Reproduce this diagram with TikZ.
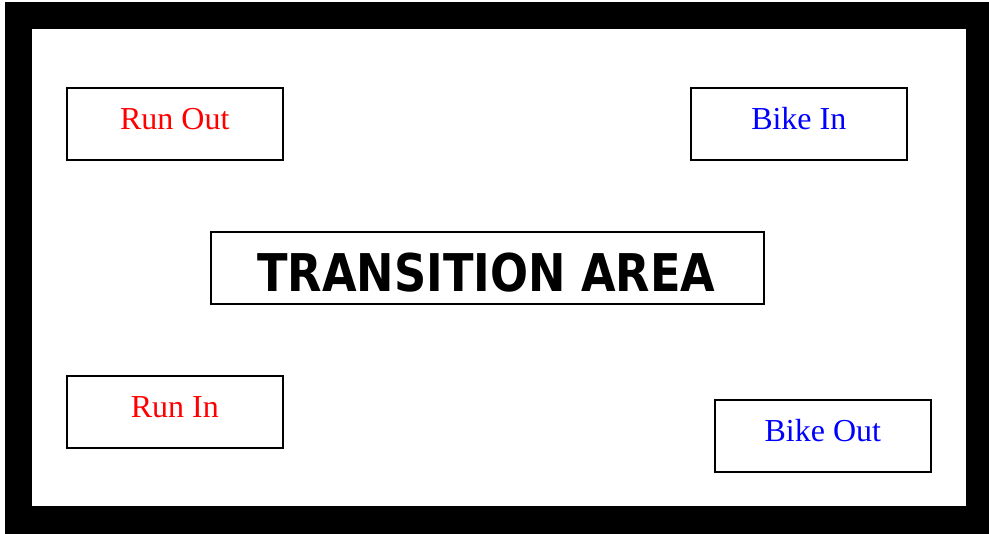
\documentclass[tikz,border=0pt]{standalone}
\usepackage{fontspec}
\setmainfont{Liberation Serif}
\newfontfamily\headfont{DejaVu Sans}
\begin{document}
\begin{tikzpicture}[x=1pt,y=-1pt,
  box/.style={draw=black,line width=1.6pt,fill=white,inner sep=0pt,
    minimum width=216pt,minimum height=72pt,anchor=north west},
  redlbl/.style={text=red,font=\fontsize{32}{36}\selectfont,inner sep=0pt},
  bluelbl/.style={text=blue,font=\fontsize{32}{36}\selectfont,inner sep=0pt}]
\useasboundingbox (0,0) rectangle (989,534);
\fill[black] (5,2) rectangle (989,534);
\fill[white] (32,29) rectangle (966,506);
\node[box] (runout) at (66,87) {};
\node[box] (bikein) at (690,87) {};
\node[box] (runin) at (66,375) {};
\node[box] (bikeout) at (714,399) {};
\node[box,minimum width=553pt,minimum height=72pt] (ta) at (210,231) {};
\node[redlbl] (lrunout) at ([yshift=5pt]runout.center) {Run Out};
\node[bluelbl] (lbikein) at ([yshift=5pt]bikein.center) {Bike In};
\node[redlbl] (lrunin) at ([yshift=5pt]runin.center) {Run In};
\node[bluelbl] (lbikeout) at ([yshift=5pt]bikeout.center) {Bike Out};
\node[inner sep=0pt] (lta) at ([yshift=-5pt,xshift=-1pt]ta.center)
  {\scalebox{0.86}[1]{\headfont\bfseries\fontsize{52}{60}\selectfont TRANSITION AREA}};
\end{tikzpicture}
\end{document}
